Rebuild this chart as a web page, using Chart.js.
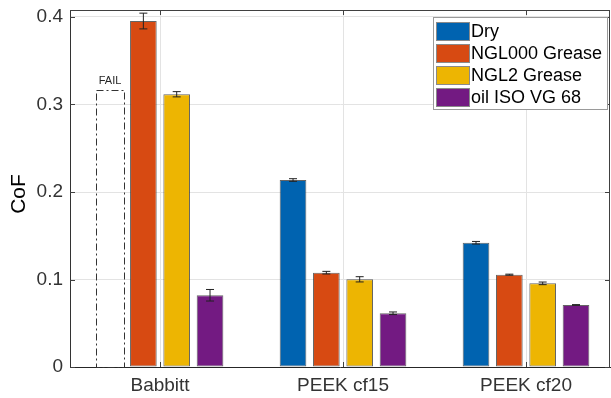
<!DOCTYPE html>
<html>
<head>
<meta charset="utf-8">
<script src="https://cdn.jsdelivr.net/npm/chart.js@4.4.1/dist/chart.umd.min.js"></script>
<style>
  html, body { margin: 0; padding: 0; background: #fff; }
  canvas { display: block; }
</style>
</head>
<body>
<canvas id="cofChart" width="611" height="398"></canvas>
<script>
const categories = ['Babbitt', 'PEEK cf15', 'PEEK cf20'];
const seriesNames = ['Dry', 'NGL000 Grease', 'NGL2 Grease', 'oil ISO VG 68'];
const seriesColors = ['#0063B0', '#D74A12', '#EDB502', '#731A82'];

// mean CoF per material, Babbitt dry has no value (test failed)
const dryValues = [null, 0.2137, 0.142];
const ngl000Values = [0.3954, 0.1078, 0.1055];
const ngl2Values = [0.3117, 0.1002, 0.0956];
const oilValues = [0.082, 0.0614, 0.0709];

// half length of the error bars
const dryErrors = [0, 0.0015, 0.0015];
const ngl000Errors = [0.009, 0.0015, 0.0006];
const ngl2Errors = [0.003, 0.003, 0.0015];
const oilErrors = [0.0066, 0.0015, 0.0004];

const failHeight = 0.3166;
const yTicks = [0, 0.1, 0.2, 0.3, 0.4];

const allValues = [dryValues, ngl000Values, ngl2Values, oilValues];
const allErrors = [dryErrors, ngl000Errors, ngl2Errors, oilErrors];

Chart.defaults.font.family = '"Liberation Sans", Arial, Helvetica, sans-serif';
Chart.defaults.color = '#333';

const datasets = seriesNames.map(function (name, i) {
    return {
        label: name,
        data: categories.map(function (c, j) {
            return { x: j + 1, y: allValues[i][j] };
        }),
        errors: allErrors[i],
        backgroundColor: seriesColors[i],
        borderColor: 'rgba(50,50,50,0.75)',
        borderWidth: 1,
        borderSkipped: false,
        categoryPercentage: 0.7286,
        barPercentage: 0.8
    };
});

const decorations = {
    id: 'decorations',
    afterDatasetsDraw: function (chart) {
        const ctx = chart.ctx;
        const x = chart.scales.x;
        const y = chart.scales.y;
        const area = chart.chartArea;

        // error bars
        ctx.save();
        ctx.strokeStyle = '#222';
        ctx.lineWidth = 1;
        chart.data.datasets.forEach(function (ds, i) {
            const meta = chart.getDatasetMeta(i);
            meta.data.forEach(function (bar, j) {
                const v = ds.data[j].y;
                if (v === null) {
                    return;
                }
                const e = ds.errors[j];
                const yt = y.getPixelForValue(v + e);
                const yb = y.getPixelForValue(v - e);
                ctx.beginPath();
                ctx.moveTo(bar.x, yt);
                ctx.lineTo(bar.x, yb);
                ctx.moveTo(bar.x - 4, yt);
                ctx.lineTo(bar.x + 4, yt);
                ctx.moveTo(bar.x - 4, yb);
                ctx.lineTo(bar.x + 4, yb);
                ctx.stroke();
            });
        });
        ctx.restore();

        // dash-dot outline for the failed Babbitt dry test
        const dryMeta = chart.getDatasetMeta(0);
        const ref = dryMeta.data[1];
        const step = x.getPixelForValue(2) - x.getPixelForValue(1);
        const cx = ref.x - step;
        const w = ref.width + 1;
        const top = y.getPixelForValue(failHeight);
        const bottom = y.getPixelForValue(0);
        ctx.save();
        ctx.strokeStyle = '#333';
        ctx.lineWidth = 1;
        ctx.setLineDash([7, 3, 2, 3]);
        ctx.strokeRect(Math.round(cx - w / 2) + 0.5, Math.round(top) + 0.5, Math.round(w), Math.round(bottom - top));
        ctx.setLineDash([]);
        ctx.fillStyle = '#262626';
        ctx.font = '11px "Liberation Sans", Arial, sans-serif';
        ctx.textAlign = 'center';
        ctx.textBaseline = 'alphabetic';
        ctx.fillText('FAIL', cx, top - 6);
        ctx.restore();

        // box round the axes and inward ticks
        ctx.save();
        ctx.strokeStyle = '#404040';
        ctx.lineWidth = 1;
        ctx.beginPath();
        ctx.moveTo(area.left, area.top + 0.5);
        ctx.lineTo(area.right, area.top + 0.5);
        ctx.moveTo(area.right - 0.5, area.top);
        ctx.lineTo(area.right - 0.5, area.bottom);
        y.ticks.forEach(function (t) {
            const py = Math.round(y.getPixelForValue(t.value)) + 0.5;
            ctx.moveTo(area.left, py);
            ctx.lineTo(area.left + 5, py);
            ctx.moveTo(area.right, py);
            ctx.lineTo(area.right - 5, py);
        });
        x.ticks.forEach(function (t) {
            const px = Math.round(x.getPixelForValue(t.value)) + 0.5;
            ctx.moveTo(px, area.bottom);
            ctx.lineTo(px, area.bottom - 5);
            ctx.moveTo(px, area.top);
            ctx.lineTo(px, area.top + 5);
        });
        ctx.stroke();
        ctx.restore();

        // y axis label
        ctx.save();
        ctx.translate(19, 194);
        ctx.rotate(-Math.PI / 2);
        ctx.fillStyle = '#000';
        ctx.font = '21px "Liberation Sans", Arial, sans-serif';
        ctx.textAlign = 'center';
        ctx.textBaseline = 'middle';
        ctx.fillText('CoF', 0, 0);
        ctx.restore();

        // legend
        const lx = 433, ly = 17, lw = 174, lh = 92;
        ctx.save();
        ctx.fillStyle = '#fff';
        ctx.fillRect(lx, ly, lw, lh);
        ctx.strokeStyle = '#9a9a9a';
        ctx.strokeRect(lx + 0.5, ly + 0.5, lw, lh);
        ctx.font = '18px "Liberation Sans", Arial, sans-serif';
        ctx.textAlign = 'left';
        ctx.textBaseline = 'middle';
        chart.data.datasets.forEach(function (ds, i) {
            const rowY = ly + 14 + i * 22;
            ctx.fillStyle = ds.backgroundColor;
            ctx.fillRect(lx + 3, rowY - 9, 34, 19);
            ctx.strokeStyle = '#8a8a8a';
            ctx.strokeRect(lx + 3.5, rowY - 8.5, 33, 18);
            ctx.fillStyle = '#000';
            ctx.fillText(ds.label, lx + 38, rowY + 1);
        });
        ctx.restore();
    }
};

new Chart(document.getElementById('cofChart'), {
    type: 'bar',
    data: { datasets: datasets },
    options: {
        responsive: false,
        animation: false,
        layout: { padding: { top: 10, right: 1, left: 0, bottom: 0 } },
        plugins: {
            legend: { display: false },
            tooltip: { enabled: false }
        },
        scales: {
            x: {
                type: 'linear',
                min: 0.508,
                max: 3.459,
                offset: false,
                afterBuildTicks: function (axis) {
                    axis.ticks = categories.map(function (c, j) {
                        return { value: j + 1 };
                    });
                },
                afterFit: function (axis) {
                    axis.height = 31;
                    axis.paddingLeft = 0;
                    axis.paddingRight = 0;
                },
                ticks: {
                    autoSkip: false,
                    maxRotation: 0,
                    padding: 7,
                    font: { size: 19 },
                    callback: function (value) {
                        return categories[value - 1];
                    }
                },
                grid: { color: '#e3e3e3', drawTicks: false, offset: false },
                border: { color: '#262626', width: 1 }
            },
            y: {
                min: 0,
                max: 0.408,
                afterBuildTicks: function (axis) {
                    axis.ticks = yTicks.map(function (v) {
                        return { value: v };
                    });
                },
                afterFit: function (axis) {
                    axis.width = 70;
                    axis.paddingTop = 0;
                    axis.paddingBottom = 0;
                },
                ticks: {
                    padding: 7,
                    font: { size: 19 },
                    callback: function (value) {
                        return String(value);
                    }
                },
                grid: { color: '#e3e3e3', drawTicks: false },
                border: { color: '#333', width: 1 }
            }
        }
    },
    plugins: [decorations]
});
</script>
</body>
</html>
